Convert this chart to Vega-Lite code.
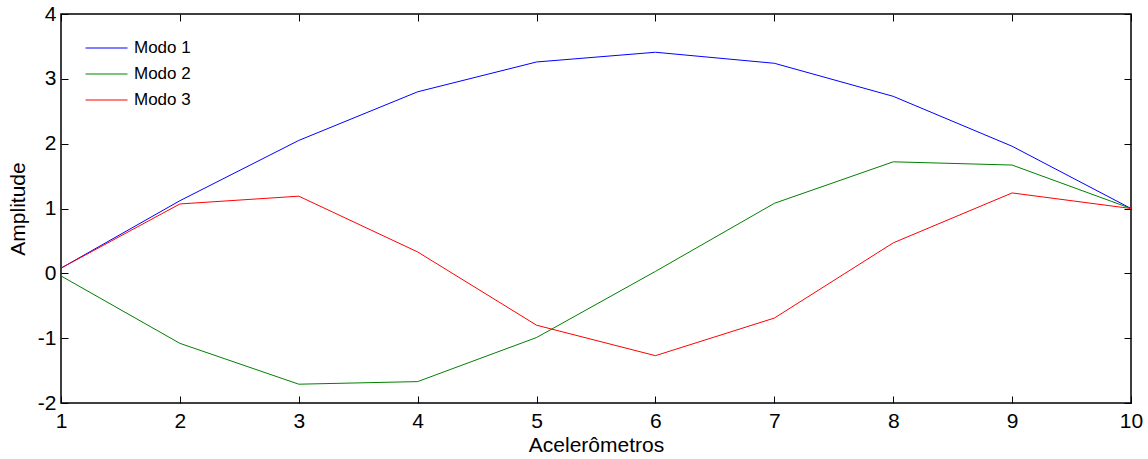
{
  "$schema": "https://vega.github.io/schema/vega-lite/v6.json",
  "autosize": "none",
  "width": 1070,
  "height": 389,
  "padding": {"left": 61, "top": 14, "right": 17, "bottom": 56},
  "background": "white",
  "config": {
    "font": "Liberation Sans",
    "view": {"stroke": "black", "strokeWidth": 1.5},
    "axis": {"grid": false, "domain": false, "tickColor": "black", "labelColor": "black", "titleColor": "black", "labelFontSize": 21, "titleFontSize": 21, "titleFontWeight": "normal", "tickSize": -7, "labelFont": "Liberation Sans", "titleFont": "Liberation Sans"}
  },
  "data": {"values": [
    {"a": 1, "v": 0.08, "m": "Modo 1"},
    {"a": 2, "v": 1.12, "m": "Modo 1"},
    {"a": 3, "v": 2.05, "m": "Modo 1"},
    {"a": 4, "v": 2.80, "m": "Modo 1"},
    {"a": 5, "v": 3.26, "m": "Modo 1"},
    {"a": 6, "v": 3.41, "m": "Modo 1"},
    {"a": 7, "v": 3.24, "m": "Modo 1"},
    {"a": 8, "v": 2.73, "m": "Modo 1"},
    {"a": 9, "v": 1.96, "m": "Modo 1"},
    {"a": 10, "v": 1.0, "m": "Modo 1"},
    {"a": 1, "v": -0.04, "m": "Modo 2"},
    {"a": 2, "v": -1.08, "m": "Modo 2"},
    {"a": 3, "v": -1.71, "m": "Modo 2"},
    {"a": 4, "v": -1.67, "m": "Modo 2"},
    {"a": 5, "v": -0.99, "m": "Modo 2"},
    {"a": 6, "v": 0.03, "m": "Modo 2"},
    {"a": 7, "v": 1.08, "m": "Modo 2"},
    {"a": 8, "v": 1.72, "m": "Modo 2"},
    {"a": 9, "v": 1.67, "m": "Modo 2"},
    {"a": 10, "v": 1.0, "m": "Modo 2"},
    {"a": 1, "v": 0.08, "m": "Modo 3"},
    {"a": 2, "v": 1.07, "m": "Modo 3"},
    {"a": 3, "v": 1.19, "m": "Modo 3"},
    {"a": 4, "v": 0.33, "m": "Modo 3"},
    {"a": 5, "v": -0.80, "m": "Modo 3"},
    {"a": 6, "v": -1.27, "m": "Modo 3"},
    {"a": 7, "v": -0.69, "m": "Modo 3"},
    {"a": 8, "v": 0.47, "m": "Modo 3"},
    {"a": 9, "v": 1.24, "m": "Modo 3"},
    {"a": 10, "v": 1.0, "m": "Modo 3"}
  ]},
  "resolve": {"axis": {"x": "independent", "y": "independent"}},
  "layer": [
    {
      "mark": {"type": "line", "strokeWidth": 1},
      "encoding": {
        "x": {"field": "a", "type": "quantitative", "scale": {"domain": [1, 10], "nice": false, "zero": false}, "axis": {"orient": "bottom", "title": "Acelerômetros", "values": [1,2,3,4,5,6,7,8,9,10], "format": "d", "labelPadding": 14, "titlePadding": 3, "labelFlush": false}},
        "y": {"field": "v", "type": "quantitative", "scale": {"domain": [-2, 4], "nice": false, "zero": false}, "axis": {"orient": "left", "title": "Amplitude", "values": [-2,-1,0,1,2,3,4], "format": "d", "labelExpr": "replace(datum.label, '\u2212', '-')", "labelPadding": 12, "titlePadding": 9, "labelFlush": false}},
        "color": {"field": "m", "type": "nominal", "scale": {"domain": ["Modo 1", "Modo 2", "Modo 3"], "range": ["#0000ff", "#008000", "#ff0000"]},
          "legend": {"title": null, "orient": "none", "legendX": 45, "legendY": 23, "padding": 0, "symbolType": "M-3,0H1", "symbolSize": 441, "symbolStrokeWidth": 1, "labelFontSize": 17, "labelFont": "Liberation Sans", "labelColor": "black", "labelOffset": 6, "rowPadding": 7}}
      }
    },
    {
      "mark": {"type": "line", "opacity": 0},
      "encoding": {
        "x": {"field": "a", "type": "quantitative", "axis": {"orient": "top", "labels": false, "title": null, "values": [1,2,3,4,5,6,7,8,9,10]}},
        "y": {"field": "v", "type": "quantitative", "axis": {"orient": "right", "labels": false, "title": null, "values": [-2,-1,0,1,2,3,4]}}
      }
    }
  ]
}
